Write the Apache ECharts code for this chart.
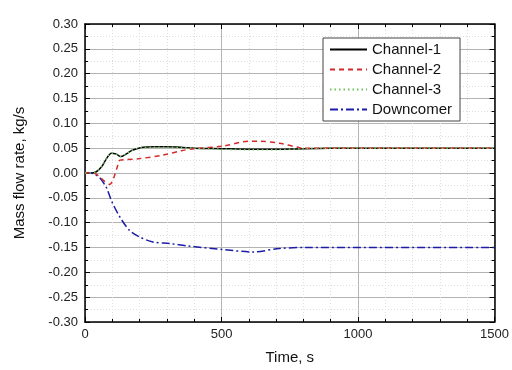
<!DOCTYPE html>
<html>
<head>
<meta charset="utf-8">
<script src="https://cdn.jsdelivr.net/npm/echarts@6/dist/echarts.min.js"></script>
<style>
html,body{margin:0;padding:0;background:#fff;}
#chart{width:512px;height:370px;}
</style>
</head>
<body>
<div id="chart"></div>
<script>
// ---- data (time in s, mass flow rate in kg/s) ----
const ch1Time = [0, 20, 40, 60, 80, 97, 115, 131, 150, 170, 190, 213, 250, 300, 350, 400, 500, 600, 700, 800, 1000, 1500];
const ch1Flow = [0, 0, 0.002, 0.012, 0.030, 0.040, 0.038, 0.033, 0.038, 0.045, 0.049, 0.052, 0.053, 0.053, 0.052, 0.050, 0.049, 0.048, 0.048, 0.049, 0.050, 0.050];

const ch2Time = [0, 30, 50, 70, 91, 105, 120, 128, 150, 200, 286, 353, 400, 504, 602, 640, 712, 785, 800, 1500];
const ch2Flow = [0, 0, -0.006, -0.016, -0.023, -0.010, 0.015, 0.026, 0.027, 0.029, 0.036, 0.045, 0.049, 0.054, 0.064, 0.064, 0.060, 0.051, 0.050, 0.050];

const ch3Time = [0, 20, 40, 60, 80, 97, 115, 131, 150, 170, 190, 213, 250, 300, 350, 400, 500, 600, 700, 800, 1000, 1500];
const ch3Flow = [0, 0, 0.002, 0.012, 0.030, 0.040, 0.038, 0.033, 0.038, 0.045, 0.049, 0.051, 0.052, 0.052, 0.051, 0.050, 0.048, 0.047, 0.047, 0.049, 0.050, 0.050];

const dcTime = [0, 18, 40, 55, 79, 97, 128, 164, 201, 249, 310, 377, 505, 614, 712, 809, 1500];
const dcFlow = [0, 0, -0.004, -0.010, -0.030, -0.056, -0.089, -0.116, -0.129, -0.139, -0.142, -0.147, -0.154, -0.159, -0.152, -0.150, -0.150];

const seriesNames = ['Channel-1', 'Channel-2', 'Channel-3', 'Downcomer'];
const xTitle = 'Time, s';
const yTitle = 'Mass flow rate, kg/s';

function pairs(t, v) { return t.map((x, i) => [x, v[i]]); }

const FONT = 'Liberation Sans, Arial, sans-serif';
const chart = echarts.init(document.getElementById('chart'), null, {renderer: 'canvas'});

const axisLineStyle = {color: '#000', width: 1.5};
const mainSplit = {show: true, lineStyle: {color: '#b4b4b4', width: 1}};
const minorSplit = {show: true, lineStyle: {color: '#dedede', width: 1, type: [1, 2]}};

chart.setOption({
  animation: false,
  backgroundColor: '#fff',
  grid: {left: 85, right: 15, top: 24, bottom: 44, containLabel: false},
  xAxis: [{
    type: 'value', min: 0, max: 1500, interval: 500, position: 'bottom',
    name: xTitle, nameLocation: 'middle', nameGap: 28,
    nameTextStyle: {fontFamily: FONT, fontSize: 15, color: '#111'},
    axisLine: {show: true, onZero: false, lineStyle: axisLineStyle},
    axisTick: {show: true, inside: true, length: 5, lineStyle: {color: '#000'}},
    minorTick: {show: true, splitNumber: 5, length: 3, lineStyle: {color: '#000'}},
    axisLabel: {fontFamily: FONT, fontSize: 13, color: '#222', margin: 6,
      formatter: v => String(v)},
    splitLine: mainSplit,
    minorSplitLine: minorSplit
  }, {
    type: 'value', min: 0, max: 1500, interval: 500, position: 'top',
    axisLine: {show: true, onZero: false, lineStyle: axisLineStyle},
    axisTick: {show: true, inside: true, length: 5, lineStyle: {color: '#000'}},
    minorTick: {show: true, splitNumber: 5, length: 3, lineStyle: {color: '#000'}},
    axisLabel: {show: false},
    splitLine: {show: false}
  }],
  yAxis: [{
    type: 'value', min: -0.3, max: 0.3, interval: 0.05, position: 'left',
    name: yTitle, nameLocation: 'middle', nameGap: 58, nameRotate: 90,
    nameTextStyle: {fontFamily: FONT, fontSize: 15, color: '#111'},
    axisLine: {show: true, onZero: false, lineStyle: axisLineStyle},
    axisTick: {show: true, inside: true, length: 5, lineStyle: {color: '#000'}},
    minorTick: {show: true, splitNumber: 2, length: 3, lineStyle: {color: '#000'}},
    axisLabel: {fontFamily: FONT, fontSize: 13, color: '#222', margin: 7,
      formatter: v => v.toFixed(2)},
    splitLine: mainSplit,
    minorSplitLine: minorSplit
  }, {
    type: 'value', min: -0.3, max: 0.3, interval: 0.05, position: 'right',
    axisLine: {show: true, onZero: false, lineStyle: axisLineStyle},
    axisTick: {show: true, inside: true, length: 5, lineStyle: {color: '#000'}},
    minorTick: {show: true, splitNumber: 2, length: 3, lineStyle: {color: '#000'}},
    axisLabel: {show: false},
    splitLine: {show: false}
  }],
  legend: {
    orient: 'vertical', left: 323, top: 38,
    data: seriesNames,
    backgroundColor: '#fff', borderColor: '#444', borderWidth: 1, borderRadius: 0,
    padding: [4, 8, 4, 6],
    itemWidth: 37, itemHeight: 14, itemGap: 5,
    itemStyle: {opacity: 0},
    textStyle: {fontFamily: FONT, fontSize: 15, color: '#111'}
  },
  series: [
    {name: seriesNames[0], type: 'line', data: pairs(ch1Time, ch1Flow), showSymbol: false, symbol: 'none',
     smooth: 0.3, lineStyle: {color: '#000', width: 1.5, type: 'solid'}, itemStyle: {color: '#000'}, z: 3},
    {name: seriesNames[1], type: 'line', data: pairs(ch2Time, ch2Flow), showSymbol: false, symbol: 'none',
     smooth: 0.3, lineStyle: {color: '#d42a2a', width: 1.5, type: [5, 4]}, itemStyle: {color: '#d42a2a'}, z: 4},
    {name: seriesNames[2], type: 'line', data: pairs(ch3Time, ch3Flow), showSymbol: false, symbol: 'none',
     smooth: 0.3, lineStyle: {color: '#6cc45a', width: 1.5, type: [1.5, 3]}, itemStyle: {color: '#6cc45a'}, z: 5},
    {name: seriesNames[3], type: 'line', data: pairs(dcTime, dcFlow), showSymbol: false, symbol: 'none',
     smooth: 0.3, lineStyle: {color: '#1c1ca8', width: 1.5, type: [8, 3, 2, 3]}, itemStyle: {color: '#1c1ca8'}, z: 3}
  ]
});
</script>
</body>
</html>
